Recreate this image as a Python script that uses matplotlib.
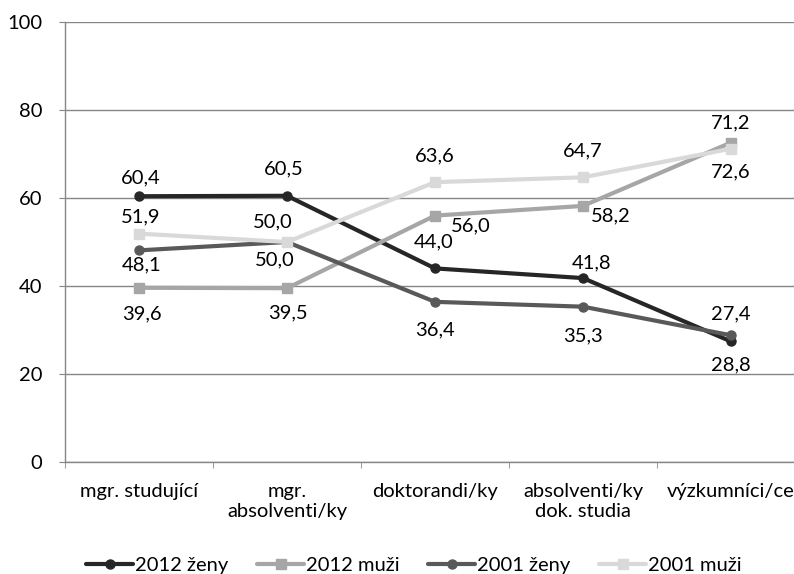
import matplotlib
matplotlib.use('Agg')
import matplotlib.pyplot as plt
import numpy as np

plt.rcParams['font.family'] = ['Lato', 'DejaVu Sans']
plt.rcParams['font.size'] = 14.5

categories = ['mgr. studující', 'mgr.\nabsolventi/ky', 'doktorandi/ky',
              'absolventi/ky\ndok. studia', 'výzkumníci/ce']
zeny_2012 = [60.4, 60.5, 44.0, 41.8, 27.4]
muzi_2012 = [39.6, 39.5, 56.0, 58.2, 72.6]
zeny_2001 = [48.1, 50.0, 36.4, 35.3, 28.8]
muzi_2001 = [51.9, 50.0, 63.6, 64.7, 71.2]

# label offsets in pixels (dx, dy), dy positive = up
off_zeny_2012 = [(2, 18), (-3, 27), (-1, 27), (9, 15), (0, 28)]
off_muzi_2012 = [(3, -26), (1, -25), (36, -10), (28, -10), (0, -29)]
off_zeny_2001 = [(3, -15), (-12, -18), (0, -28), (0, -29), (0, -30)]
off_muzi_2001 = [(2, 17), (-14, 20), (0, 26), (0, 26), (0, 26)]

series = [
    ('2012 ženy', zeny_2012, '#262626', 'o', off_zeny_2012),
    ('2012 muži', muzi_2012, '#a6a6a6', 's', off_muzi_2012),
    ('2001 ženy', zeny_2001, '#595959', 'o', off_zeny_2001),
    ('2001 muži', muzi_2001, '#d9d9d9', 's', off_muzi_2001),
]

fig = plt.figure(figsize=(7.94, 5.74), dpi=100)
ax = fig.add_axes([65 / 794, 1 - 462 / 574, 740 / 794, 440 / 574])

x = np.arange(len(categories))
for name, vals, col, mk, offs in series:
    ax.plot(x, vals, color=col, lw=3.0, marker=mk, ms=6.5,
            label=name, solid_capstyle='round', zorder=3)
    for xi, v, (dx, dy) in zip(x, vals, offs):
        ax.annotate(f'{v:.1f}'.replace('.', ','), (xi, v),
                    xytext=(dx, dy), textcoords='offset pixels',
                    ha='center', va='center', color='black', zorder=5)

ax.set_xlim(-0.5, len(categories) - 0.5)
ax.set_ylim(0, 100)
ax.set_yticks(np.arange(0, 101, 20))
ax.set_xticks(x)
ax.set_xticklabels(categories)
ax.set_xticks(np.arange(-0.5, len(categories)), minor=True)

grid_col = '#868686'
ax.yaxis.grid(True, color=grid_col, lw=1)
ax.set_axisbelow(True)
for side in ['top', 'right']:
    ax.spines[side].set_visible(False)
for side in ['left', 'bottom']:
    ax.spines[side].set_color(grid_col)
    ax.spines[side].set_linewidth(1)

ax.tick_params(axis='y', length=4.5, color=grid_col, pad=12)
ax.tick_params(axis='x', which='major', length=0, pad=15)
ax.tick_params(axis='x', which='minor', length=4.5, color=grid_col)

fig.legend(loc='center', bbox_to_anchor=(0.5 + 17 / 794, 1 - 565 / 574), ncol=4,
           frameon=False, handlelength=2.35, handletextpad=0.1,
           columnspacing=1.4, borderaxespad=0)

fig.savefig('out.png', dpi=100)
